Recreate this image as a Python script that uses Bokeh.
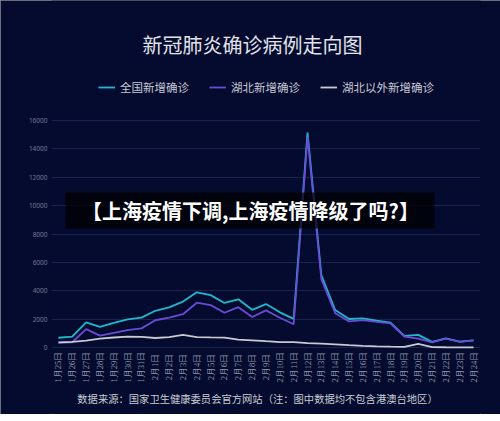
import math
from bokeh.plotting import figure
from bokeh.models import (ColumnDataSource, Range1d, Label, LabelSet, BoxAnnotation,
                          Legend, LegendItem, FixedTicker)
from bokeh.embed import file_html
from bokeh.resources import INLINE

# ---------------- data ----------------
dates = ["1月25日", "1月26日", "1月27日", "1月28日", "1月29日", "1月30日", "1月31日",
         "2月1日", "2月2日", "2月3日", "2月4日", "2月5日", "2月6日", "2月7日", "2月8日",
         "2月9日", "2月10日", "2月11日", "2月12日", "2月13日", "2月14日", "2月15日",
         "2月16日", "2月17日", "2月18日", "2月19日", "2月20日", "2月21日", "2月22日",
         "2月23日", "2月24日"]
national = [688, 769, 1771, 1459, 1737, 1982, 2102, 2590, 2829, 3235, 3887, 3694, 3143, 3399,
            2656, 3062, 2478, 2015, 15152, 5090, 2641, 2009, 2048, 1886, 1749, 820, 889, 397,
            648, 409, 508]
hubei = [323, 371, 1291, 840, 1032, 1220, 1347, 1921, 2103, 2345, 3156, 2987, 2447, 2841,
         2147, 2618, 2097, 1638, 14840, 4823, 2420, 1843, 1933, 1807, 1693, 775, 631, 366,
         630, 398, 499]
outside = [365, 398, 480, 619, 705, 762, 755, 669, 726, 890, 731, 707, 696, 558, 509, 444,
           381, 377, 312, 267, 221, 166, 115, 79, 56, 45, 258, 31, 18, 11, 9]
y_ticks = [0, 2000, 4000, 6000, 8000, 10000, 12000, 14000, 16000]
series_names = ["全国新增确诊", "湖北新增确诊", "湖北以外新增确诊"]

title_text = "新冠肺炎确诊病例走向图"
footer_text = "数据来源：国家卫生健康委员会官方网站（注：图中数据均不包含港澳台地区）"
banner_text = "【上海疫情下调,上海疫情降级了吗?】"

# ---------------- style / geometry ----------------
W, H = 500, 414
BG = "#040b2e"
FL, FR = 51, 480            # frame left/right pixels
Y0PX, Y16PX = 347, 120      # pixel rows of 0 and 16000
CJK = "Noto Sans CJK SC"

n = len(dates)
x0, x1 = -0.5, n - 0.5
k = 16000 / (Y0PX - Y16PX)  # value per pixel
y0, y1 = (Y0PX - H) * k, Y0PX * k   # frame spans the whole height

def px2x(px):
    return x0 + (px - FL) / (FR - FL) * (x1 - x0)

def py2y(py):
    return (Y0PX - py) * k

p = figure(width=W, height=H, output_backend="svg", toolbar_location=None,
           x_range=Range1d(x0, x1), y_range=Range1d(y0, y1),
           min_border_left=FL, min_border_right=W - FR,
           min_border_top=0, min_border_bottom=0,
           styles={"outline": "1px solid #8e8f99", "outline-offset": "-1px",
                   "background-color": BG})
p.background_fill_color = BG
p.border_fill_color = BG
p.outline_line_color = None
p.title.visible = False

p.xaxis.visible = False
p.xgrid.visible = False
p.ygrid.ticker = FixedTicker(ticks=y_ticks)
p.ygrid.grid_line_color = "#1a2250"
p.ygrid.grid_line_width = 1
p.yaxis.ticker = FixedTicker(ticks=y_ticks)
p.yaxis.axis_line_color = None
p.yaxis.major_tick_line_color = None
p.yaxis.minor_tick_line_color = None
p.yaxis.major_tick_out = 0
p.yaxis.major_tick_in = 0
p.yaxis.major_label_standoff = 4
p.yaxis.major_label_text_font_size = "6.5px"
p.yaxis.major_label_text_color = "#737a96"
p.yaxis.major_label_text_font = "Noto Sans"

src = ColumnDataSource(dict(x=list(range(n)), national=national, hubei=hubei,
                            outside=outside, date=dates))
colors = ["#1fb8cc", "#6a4bd6", "#c9c9d3"]
r1 = p.line("x", "national", source=src, line_color=colors[0], line_width=1.8)
r2 = p.line("x", "hubei", source=src, line_color=colors[1], line_width=1.8)
r3 = p.line("x", "outside", source=src, line_color=colors[2], line_width=1.8)

# x labels, vertical and centred
ls = LabelSet(x="x", y=py2y(366.5), text="date", source=src, angle=math.pi / 2,
              text_align="center", text_baseline="middle", text_font_size="8.5px",
              text_color="#9097ae", text_font=CJK)
p.add_layout(ls)

legend = Legend(items=[LegendItem(label=series_names[0], renderers=[r1]),
                       LegendItem(label=series_names[1], renderers=[r2]),
                       LegendItem(label=series_names[2], renderers=[r3])],
                orientation="horizontal", location=(47, H - 97),
                background_fill_alpha=0, border_line_alpha=0,
                label_text_color="#c6c9d4", label_text_font_size="11.5px",
                label_text_font=CJK, glyph_width=17, glyph_height=20,
                label_standoff=5, spacing=20, padding=0, margin=0)
p.add_layout(legend, "center")

p.add_layout(Label(x=px2x(252), y=py2y(44), text=title_text, text_align="center",
                   text_baseline="middle", text_font_size="20px", text_color="#e2e3ea",
                   text_font=CJK))
p.add_layout(Label(x=px2x(257), y=py2y(398), text=footer_text, text_align="center",
                   text_baseline="middle", text_font_size="10.3px", text_color="#c9cbd4",
                   text_font=CJK))

p.add_layout(BoxAnnotation(left=px2x(65), right=px2x(434), top=py2y(192), bottom=py2y(228),
                           fill_color="#000000", fill_alpha=0.72, line_alpha=0, level="overlay"))
p.add_layout(Label(x=px2x(250), y=py2y(210), text=banner_text, text_align="center",
                   text_baseline="middle", text_font_size="20px", text_color="#ffffff",
                   text_font_style="bold", text_font=CJK, level="overlay"))

open("out.html", "w").write(file_html(p, INLINE))
